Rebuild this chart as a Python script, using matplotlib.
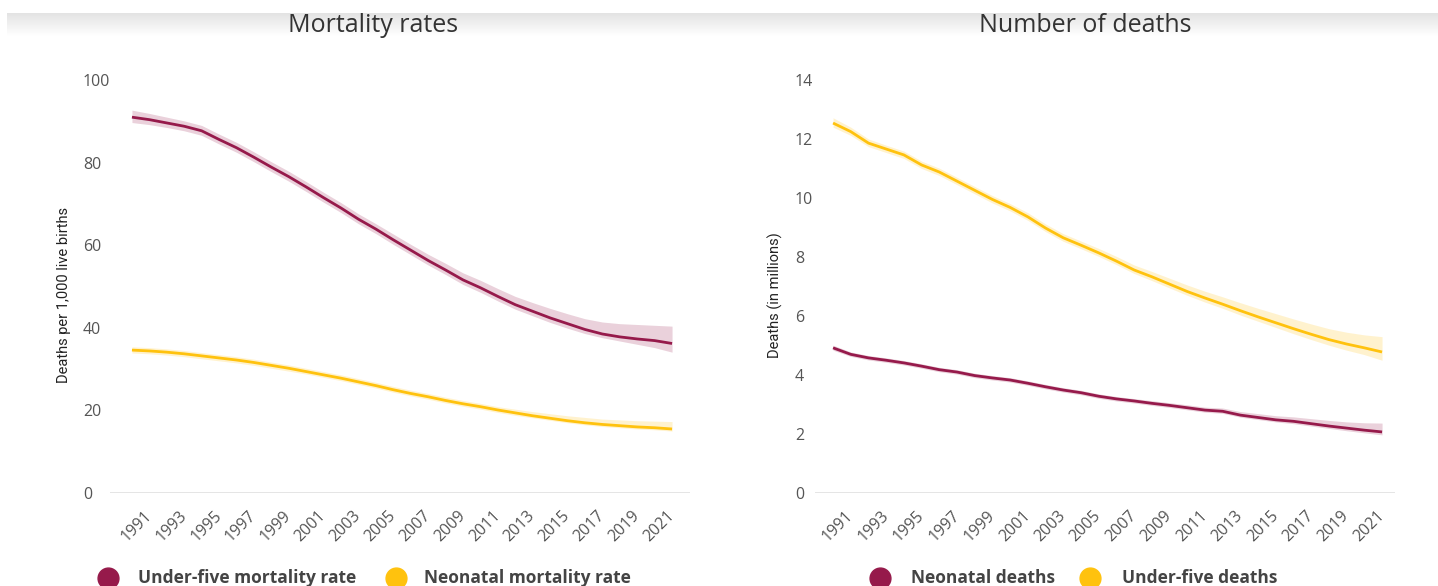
import numpy as np
import matplotlib
matplotlib.use("Agg")
import matplotlib.pyplot as plt
from matplotlib.lines import Line2D

plt.rcParams["font.family"] = ["Open Sans", "DejaVu Sans"]

CRIMSON = "#961a4b"
YELLOW = "#ffc20e"

years = list(range(1990, 2022))
tick_years = list(range(1991, 2022, 2))

# mortality rates, deaths per 1,000 live births
u5mr = [91.0, 90.4, 89.6, 88.8, 87.7, 85.6, 83.6, 81.3, 78.9, 76.6, 74.1, 71.5, 69.0, 66.3, 63.9, 61.3,
        58.8, 56.3, 54.0, 51.6, 49.7, 47.6, 45.6, 44.0, 42.4, 41.0, 39.6, 38.5, 37.8, 37.3, 36.9, 36.2]
u5mr_lo = [89.7, 89.2, 88.5, 87.7, 86.6, 84.5, 82.5, 80.2, 77.8, 75.5, 73.0, 70.4, 67.9, 65.2, 62.8, 60.2,
           57.7, 55.2, 52.9, 50.5, 48.6, 46.5, 44.5, 42.9, 41.3, 39.9, 38.6, 37.6, 36.8, 36.0, 35.2, 34.1]
u5mr_hi = [92.7, 91.9, 91.0, 90.1, 89.0, 86.9, 84.9, 82.6, 80.2, 77.9, 75.4, 72.8, 70.3, 67.6, 65.2, 62.7,
           60.2, 57.8, 55.6, 53.3, 51.5, 49.5, 47.6, 46.1, 44.7, 43.4, 42.2, 41.4, 41.0, 40.8, 40.6, 40.4]

nmr = [34.6, 34.4, 34.1, 33.7, 33.2, 32.7, 32.2, 31.6, 30.9, 30.2, 29.4, 28.6, 27.8, 26.9, 26.0, 25.0,
       24.1, 23.3, 22.4, 21.6, 20.9, 20.1, 19.4, 18.7, 18.1, 17.5, 17.0, 16.6, 16.3, 16.0, 15.8, 15.5]
nmr_lo = [33.9, 33.7, 33.4, 33.0, 32.5, 32.0, 31.5, 30.9, 30.2, 29.5, 28.8, 28.0, 27.2, 26.3, 25.4, 24.4,
          23.5, 22.7, 21.8, 21.0, 20.3, 19.5, 18.8, 18.2, 17.6, 17.0, 16.5, 16.1, 15.8, 15.5, 15.3, 15.0]
nmr_hi = [35.4, 35.2, 34.9, 34.5, 34.0, 33.5, 33.0, 32.4, 31.7, 31.0, 30.2, 29.4, 28.6, 27.7, 26.8, 25.8,
          24.9, 24.1, 23.2, 22.4, 21.7, 20.9, 20.3, 19.7, 19.2, 18.7, 18.3, 17.9, 17.7, 17.5, 17.4, 17.3]

# number of deaths, millions
u5d = [12.54, 12.25, 11.86, 11.66, 11.46, 11.12, 10.88, 10.57, 10.26, 9.95, 9.68, 9.36, 8.98, 8.65, 8.40, 8.14,
       7.86, 7.56, 7.33, 7.08, 6.83, 6.61, 6.40, 6.18, 5.97, 5.77, 5.57, 5.38, 5.20, 5.05, 4.92, 4.78]
u5d_lo = [12.40, 12.12, 11.74, 11.54, 11.34, 11.00, 10.76, 10.45, 10.14, 9.83, 9.56, 9.24, 8.86, 8.53, 8.28, 8.02,
          7.74, 7.44, 7.20, 6.95, 6.70, 6.47, 6.26, 6.03, 5.82, 5.61, 5.40, 5.20, 5.01, 4.84, 4.69, 4.50]
u5d_hi = [12.72, 12.40, 12.00, 11.79, 11.59, 11.25, 11.01, 10.70, 10.39, 10.08, 9.81, 9.50, 9.12, 8.79, 8.54, 8.29,
          8.02, 7.73, 7.51, 7.28, 7.05, 6.84, 6.65, 6.45, 6.26, 6.08, 5.90, 5.73, 5.57, 5.45, 5.36, 5.30]

nnd = [4.92, 4.70, 4.58, 4.50, 4.41, 4.30, 4.18, 4.10, 3.98, 3.90, 3.83, 3.72, 3.60, 3.49, 3.40, 3.28,
       3.19, 3.12, 3.04, 2.97, 2.89, 2.81, 2.77, 2.64, 2.56, 2.48, 2.43, 2.35, 2.27, 2.20, 2.13, 2.07]
nnd_lo = [4.84, 4.63, 4.51, 4.43, 4.34, 4.23, 4.11, 4.03, 3.91, 3.83, 3.76, 3.65, 3.53, 3.42, 3.33, 3.21,
          3.12, 3.05, 2.97, 2.90, 2.82, 2.74, 2.70, 2.57, 2.49, 2.41, 2.35, 2.27, 2.19, 2.11, 2.04, 1.97]
nnd_hi = [5.01, 4.78, 4.66, 4.58, 4.49, 4.38, 4.26, 4.18, 4.06, 3.98, 3.91, 3.80, 3.68, 3.57, 3.48, 3.36,
          3.27, 3.20, 3.13, 3.06, 2.99, 2.91, 2.88, 2.76, 2.69, 2.62, 2.58, 2.52, 2.46, 2.41, 2.38, 2.37]

W, H = 1438, 586
fig = plt.figure(figsize=(W / 100, H / 100), dpi=100)


def px_axes(x0, y0, x1, y1):
    # axes from pixel box (top-left origin)
    return fig.add_axes([x0 / W, 1 - y1 / H, (x1 - x0) / W, (y1 - y0) / H])


# soft grey header strip behind the titles
hdr = px_axes(7, 13, W, 36)
grad = np.linspace(0.89, 1.0, 50).reshape(-1, 1)
hdr.imshow(np.dstack([grad, grad, grad]), aspect="auto", extent=[0, 1, 0, 1])
hdr.axis("off")


def style_axes(ax, ymax, ystep, xlim, ylabel, label_x, pad):
    ax.set_xlim(*xlim)
    ax.set_ylim(0, ymax)
    for s in ax.spines.values():
        s.set_visible(False)
    ax.axhline(0, color="#e0e0e0", lw=1.2, zorder=0)
    ax.set_yticks(np.arange(0, ymax + 1, ystep))
    ax.tick_params(axis="y", length=0, pad=pad, labelsize=11.5, labelcolor="#555555")
    for lab in ax.get_yticklabels():
        lab.set_horizontalalignment("left")
    ax.set_xticks(tick_years)
    ax.set_xticklabels([str(y) for y in tick_years], rotation=45, ha="right", va="center",
                       rotation_mode="anchor", fontsize=11.5, color="#555555")
    ax.tick_params(axis="x", length=0, pad=15)
    ax.set_ylabel(ylabel, fontsize=10.5, color="#222222", family=["Roboto", "DejaVu Sans"])
    ax.yaxis.set_label_coords(label_x, 0.48)


def band_line(ax, y, lo, hi, color):
    ax.fill_between(years, lo, hi, color=color, alpha=0.2, lw=0)
    ax.plot(years, y, color=color, lw=2.0, solid_capstyle="butt")


# left panel: rates
ax1 = px_axes(110, 80, 690, 493)
style_axes(ax1, 100, 20, (1988.74, 2022.03), "Deaths per 1,000 live births", -0.068, 19.5)
band_line(ax1, u5mr, u5mr_lo, u5mr_hi, CRIMSON)
band_line(ax1, nmr, nmr_lo, nmr_hi, YELLOW)

# right panel: deaths
ax2 = px_axes(815, 80, 1395, 493)
style_axes(ax2, 14, 2, (1988.98, 2021.73), "Deaths (in millions)", -0.055, 14.5)
band_line(ax2, u5d, u5d_lo, u5d_hi, YELLOW)
band_line(ax2, nnd, nnd_lo, nnd_hi, CRIMSON)

fig.text(373 / W, 1 - 25 / H, "Mortality rates", ha="center", va="center", fontsize=18, color="#333333")
fig.text(1085 / W, 1 - 25 / H, "Number of deaths", ha="center", va="center", fontsize=18, color="#333333")


def legend_item(x_dot, x_text, label, color):
    y = 1 - 578 / H
    fig.add_artist(Line2D([x_dot / W], [y], marker="o", markersize=15, color=color,
                          transform=fig.transFigure, linestyle="none"))
    fig.text(x_text / W, y, label, ha="left", va="center", fontsize=12.5,
             fontweight="bold", color="#444444")


legend_item(108, 138, "Under-five mortality rate", CRIMSON)
legend_item(396, 424, "Neonatal mortality rate", YELLOW)
legend_item(880, 911, "Neonatal deaths", CRIMSON)
legend_item(1090, 1122, "Under-five deaths", YELLOW)

fig.savefig("out.png", dpi=100)
